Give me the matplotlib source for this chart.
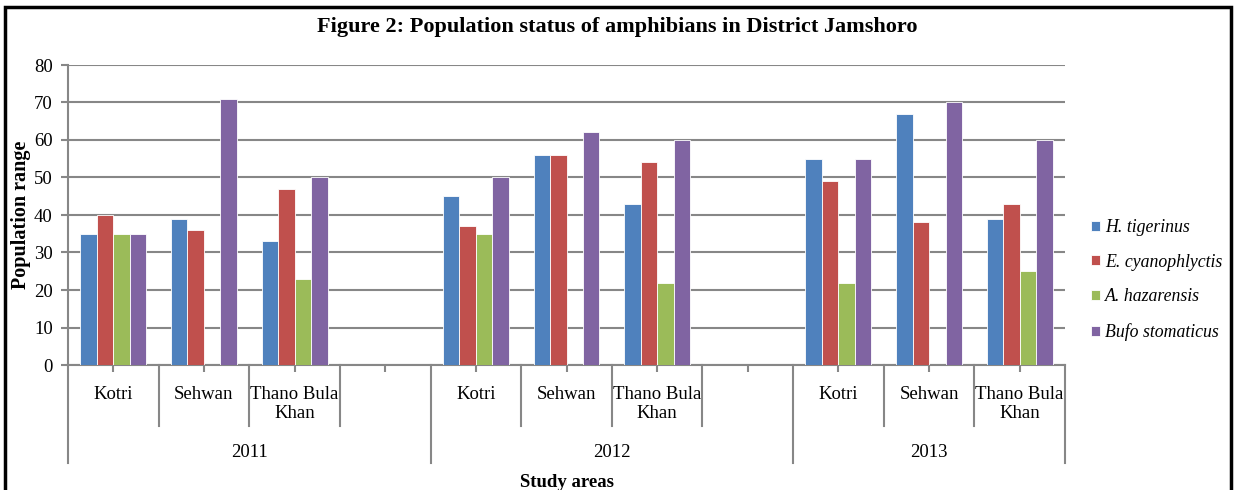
import matplotlib.pyplot as plt
import matplotlib.transforms as mtransforms
from matplotlib.patches import Rectangle
import numpy as np

plt.rcParams['font.family'] = ['Liberation Serif', 'DejaVu Serif']

years = ['2011', '2012', '2013']
sites = ['Kotri', 'Sehwan', 'Thano Bula\nKhan']
series = ['H. tigerinus', 'E. cyanophlyctis', 'A. hazarensis', 'Bufo stomaticus']
colors = ['#4F81BD', '#C0504D', '#9BBB59', '#8064A2']

# order: 2011 Kotri, Sehwan, TBK, 2012 ..., 2013 ...
h_tigerinus = [35, 39, 33, 45, 56, 43, 55, 67, 39]
e_cyanophlyctis = [40, 36, 47, 37, 56, 54, 49, 38, 43]
a_hazarensis = [35, 0, 23, 35, 0, 22, 22, 0, 25]
bufo_stomaticus = [35, 71, 50, 50, 62, 60, 55, 70, 60]
values = [h_tigerinus, e_cyanophlyctis, a_hazarensis, bufo_stomaticus]

grey = '#878787'

fig = plt.figure(figsize=(12.35, 4.9), dpi=100)
ax = fig.add_axes([68 / 1235, 1 - 365 / 490, (1065 - 68) / 1235, 300 / 490])

# slot index for each (year, site); 4 slots per year, last one empty
slots = np.array([4 * y + s for y in range(len(years)) for s in range(len(sites))])
centers = slots + 0.5
w = 0.182
for i, (name, vals) in enumerate(zip(series, values)):
    ax.bar(centers + (i - 1.5) * w, vals, width=w, color=colors[i],
           edgecolor='white', linewidth=0.6, label=name, zorder=3)

ax.set_xlim(0, 11)
ax.set_ylim(0, 80)
ax.set_yticks(range(0, 81, 10))
ax.yaxis.grid(True, color=grey, linewidth=1.5, zorder=0)
ax.set_axisbelow(True)
for s in ['top', 'right']:
    ax.spines[s].set_visible(False)
for s in ['left', 'bottom']:
    ax.spines[s].set_color(grey)
    ax.spines[s].set_linewidth(1.5)
ax.tick_params(axis='y', colors=grey, length=5, width=1.5, labelsize=13.5,
               labelcolor='black', pad=6)

# x tick labels at every slot center (empty slots without label)
all_centers = np.arange(11) + 0.5
labels = []
for k in range(11):
    y, s = divmod(k, 4)
    labels.append(sites[s] if s < 3 else '')
ax.set_xticks(all_centers)
ax.set_xticklabels(labels, fontsize=13.5, linespacing=1.2)
ax.tick_params(axis='x', colors=grey, length=5, width=1.5, labelcolor='black', pad=10)

# separators of the two-level axis
trans = mtransforms.blended_transform_factory(ax.transData, ax.transAxes)
for b in range(12):
    if b in (0, 4, 8, 11):
        y_end = -0.327
    else:
        y_end = -0.203
    ax.plot([b, b], [0, y_end], color=grey, linewidth=1.5, transform=trans, clip_on=False)

year_centers = [2, 6, 9.5]
for yc, yr in zip(year_centers, years):
    ax.text(yc, -0.29, yr, transform=trans, ha='center', va='center', fontsize=13.5)

ax.text(5.5, -0.39, 'Study areas', transform=trans, ha='center', va='center',
        fontsize=13.5, fontweight='bold')
fig.text(21 / 1235, 1 - 215 / 490, 'Population range', rotation=90, ha='center',
         va='center', fontsize=14.5, fontweight='bold')

fig.text(0.5, 1 - 27 / 490, 'Figure 2: Population status of amphibians in District Jamshoro',
         ha='center', va='center', fontsize=16, fontweight='bold')

leg = fig.legend(loc='center left', bbox_to_anchor=(1075 / 1235, 1 - 280 / 490),
                 frameon=False, handlelength=0.5, handleheight=0.5, handletextpad=0.3,
                 labelspacing=1.0, prop={'style': 'italic', 'size': 12.8})

fig.patches.append(Rectangle((5 / 1235, -0.1), 1226 / 1235, 1.1 - 7 / 490,
                             transform=fig.transFigure, fill=False,
                             edgecolor='black', linewidth=2.5))

plt.savefig('out.png', dpi=100)
